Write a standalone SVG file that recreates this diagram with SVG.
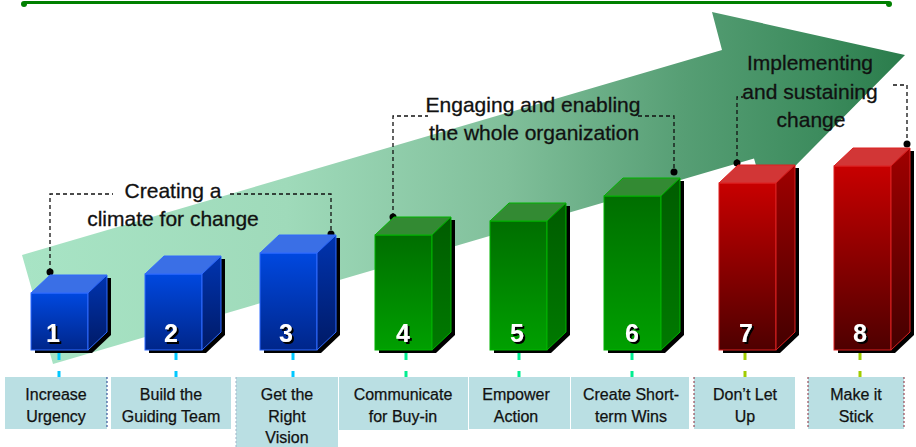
<svg xmlns="http://www.w3.org/2000/svg" width="916" height="447" viewBox="0 0 916 447">
<defs>
<linearGradient id="arrowGrad" gradientUnits="userSpaceOnUse" x1="22" y1="0" x2="905" y2="0">
<stop offset="0" stop-color="#a8e4c5"/>
<stop offset="0.3" stop-color="#9fdaba"/>
<stop offset="0.55" stop-color="#80bf9a"/>
<stop offset="0.75" stop-color="#569e74"/>
<stop offset="0.9" stop-color="#3d8c5e"/>
<stop offset="1" stop-color="#2a7c4b"/>
</linearGradient>
<linearGradient id="blueFront" x1="0" y1="0" x2="0" y2="1"><stop offset="0" stop-color="#0048e0"/><stop offset="1" stop-color="#00268a"/></linearGradient>
<linearGradient id="blueSide" x1="0" y1="0" x2="0" y2="1"><stop offset="0" stop-color="#0034b0"/><stop offset="1" stop-color="#001a66"/></linearGradient>
<linearGradient id="greenFront" x1="0" y1="0" x2="0" y2="1"><stop offset="0" stop-color="#006e00"/><stop offset="1" stop-color="#00a000"/></linearGradient>
<linearGradient id="greenSide" x1="0" y1="0" x2="0" y2="1"><stop offset="0" stop-color="#005c00"/><stop offset="1" stop-color="#007a00"/></linearGradient>
<linearGradient id="redFront" x1="0" y1="0" x2="0" y2="1"><stop offset="0" stop-color="#c80000"/><stop offset="1" stop-color="#4e0000"/></linearGradient>
<linearGradient id="redSide" x1="0" y1="0" x2="0" y2="1"><stop offset="0" stop-color="#a00000"/><stop offset="1" stop-color="#440000"/></linearGradient>
<filter id="numShadow" x="-50%" y="-50%" width="200%" height="200%">
<feDropShadow dx="2" dy="2" stdDeviation="0" flood-color="#000" flood-opacity="1"/>
</filter>
<style>
.shadow{fill:#000}
.bF{fill:url(#blueFront);stroke:#2f6bff;stroke-width:1}
.bS{fill:url(#blueSide);stroke:#2f6bff;stroke-width:1}
.bT{fill:#3a6fe6;stroke:#2f6bff;stroke-width:1}
.gF{fill:url(#greenFront);stroke:#00b400;stroke-width:1}
.gS{fill:url(#greenSide);stroke:#00b400;stroke-width:1}
.gT{fill:#338a33;stroke:#00b400;stroke-width:1}
.rF{fill:url(#redFront);stroke:#dd2020;stroke-width:1}
.rS{fill:url(#redSide);stroke:#dd2020;stroke-width:1}
.rT{fill:#d23636;stroke:#dd2020;stroke-width:1}
.num{font-family:"Liberation Sans",Arial,sans-serif;font-weight:bold;font-size:25px;text-anchor:middle;fill:#fff;filter:url(#numShadow)}
.tick{stroke-width:3;stroke-dasharray:10 11}
.box{fill:#badfe3}
.lbl{font-family:"Liberation Sans",Arial,sans-serif;font-size:16px;fill:#111;stroke:#111;stroke-width:0.25;text-anchor:middle}
.head{font-family:"Liberation Sans",Arial,sans-serif;font-size:21px;fill:#111;stroke:#111;stroke-width:0.3;text-anchor:middle}
.br{fill:none;stroke:#111;stroke-width:1.3;stroke-dasharray:4 3}
.dot{fill:#000}
</style>
</defs>
<rect width="916" height="447" fill="#fff"/>
<g id="topline">
<line x1="24" y1="2.5" x2="889" y2="2.5" stroke="#008000" stroke-width="3"/>
<circle cx="24" cy="4" r="3" fill="#008000"/>
<circle cx="889" cy="4" r="3" fill="#008000"/>
</g>
<g id="arrow">
<polygon points="22,255 53,364 754,158.5 765,196.5 905,55 712,12 722,50" fill="url(#arrowGrad)"/>
</g>
<g id="connectors">
<line class="tick" x1="59" y1="350" x2="59" y2="377" stroke="#00c8ff"/>
<line class="tick" x1="176" y1="350" x2="176" y2="377" stroke="#00c8ff"/>
<line class="tick" x1="293" y1="350" x2="293" y2="377" stroke="#00c8ff"/>
<line class="tick" x1="406" y1="350" x2="406" y2="377" stroke="#00ee90"/>
<line class="tick" x1="519" y1="350" x2="519" y2="377" stroke="#00ee90"/>
<line class="tick" x1="632" y1="350" x2="632" y2="377" stroke="#00ee90"/>
<line class="tick" x1="745" y1="350" x2="745" y2="377" stroke="#a0cc00"/>
<line class="tick" x1="860" y1="350" x2="860" y2="377" stroke="#a0cc00"/>
<path class="br" d="M50,272 V194 H113 M230,194 H331 V234"/>
<path class="br" d="M393,217 V116 H428 M638,116 H674 V172"/>
<path class="br" d="M737,163 V97 H743 M893,85 H907 V144"/>
<circle class="dot" cx="50" cy="272" r="3.5"/>
<circle class="dot" cx="331" cy="234" r="3.5"/>
<circle class="dot" cx="393" cy="217" r="3.5"/>
<circle class="dot" cx="674" cy="172" r="3.5"/>
<circle class="dot" cx="737" cy="163" r="3.5"/>
<circle class="dot" cx="907" cy="144" r="3.5"/>
</g>
<g id="bar1">
<polygon class="shadow" points="35,296 54,278 111,278 111,335 92,353 35,353"/>
<rect class="bF" x="31" y="293" width="57" height="57"/>
<polygon class="bT" points="31,293 50,275 107,275 88,293"/>
<polygon class="bS" points="88,293 107,275 107,332 88,350"/>
<text class="num" x="53" y="342">1</text>
</g>
<g id="bar2">
<polygon class="shadow" points="149,277 168,259 225,259 225,335 206,353 149,353"/>
<rect class="bF" x="145" y="274" width="57" height="76"/>
<polygon class="bT" points="145,274 164,256 221,256 202,274"/>
<polygon class="bS" points="202,274 221,256 221,332 202,350"/>
<text class="num" x="171" y="342">2</text>
</g>
<g id="bar3">
<polygon class="shadow" points="264,256 283,238 340,238 340,335 321,353 264,353"/>
<rect class="bF" x="260" y="253" width="57" height="97"/>
<polygon class="bT" points="260,253 279,235 336,235 317,253"/>
<polygon class="bS" points="317,253 336,235 336,332 317,350"/>
<text class="num" x="286" y="342">3</text>
</g>
<g id="bar4">
<polygon class="shadow" points="379,238 398,220 455,220 455,335 436,353 379,353"/>
<rect class="gF" x="375" y="235" width="57" height="115"/>
<polygon class="gT" points="375,235 394,217 451,217 432,235"/>
<polygon class="gS" points="432,235 451,217 451,332 432,350"/>
<text class="num" x="403" y="342">4</text>
</g>
<g id="bar5">
<polygon class="shadow" points="494,224 513,206 570,206 570,335 551,353 494,353"/>
<rect class="gF" x="490" y="221" width="57" height="129"/>
<polygon class="gT" points="490,221 509,203 566,203 547,221"/>
<polygon class="gS" points="547,221 566,203 566,332 547,350"/>
<text class="num" x="517" y="342">5</text>
</g>
<g id="bar6">
<polygon class="shadow" points="608,199 627,181 684,181 684,335 665,353 608,353"/>
<rect class="gF" x="604" y="196" width="57" height="154"/>
<polygon class="gT" points="604,196 623,178 680,178 661,196"/>
<polygon class="gS" points="661,196 680,178 680,332 661,350"/>
<text class="num" x="632" y="342">6</text>
</g>
<g id="bar7">
<polygon class="shadow" points="723,186 742,168 799,168 799,335 780,353 723,353"/>
<rect class="rF" x="719" y="183" width="57" height="167"/>
<polygon class="rT" points="719,183 738,165 795,165 776,183"/>
<polygon class="rS" points="776,183 795,165 795,332 776,350"/>
<text class="num" x="746" y="342">7</text>
</g>
<g id="bar8">
<polygon class="shadow" points="838,169 857,151 914,151 914,335 895,353 838,353"/>
<rect class="rF" x="834" y="166" width="57" height="184"/>
<polygon class="rT" points="834,166 853,148 910,148 891,166"/>
<polygon class="rS" points="891,166 910,148 910,332 891,350"/>
<text class="num" x="860" y="342">8</text>
</g>
<g id="phase1">
<text class="head" x="173" y="198">Creating a</text>
<text class="head" x="173" y="226">climate for change</text>
</g>
<g id="phase2">
<text class="head" x="533" y="112">Engaging and enabling</text>
<text class="head" x="534" y="140">the whole organization</text>
</g>
<g id="phase3">
<text class="head" x="810" y="70">Implementing</text>
<text class="head" x="810" y="99">and sustaining</text>
<text class="head" x="811" y="127">change</text>
</g>
<g id="label1">
<rect class="box" x="5" y="377" width="102" height="52"/>
<line x1="107" y1="377" x2="107" y2="429" stroke="#1a3a8a" stroke-width="1" stroke-dasharray="2 2"/>
<text class="lbl" x="56" y="399.5">Increase</text><text class="lbl" x="56" y="421.5">Urgency</text>
</g>
<g id="label2">
<rect class="box" x="111" y="377" width="120" height="52"/>
<text class="lbl" x="171" y="399.5">Build the</text><text class="lbl" x="171" y="421.5">Guiding Team</text>
</g>
<g id="label3">
<rect class="box" x="236" y="377" width="102" height="70"/>
<line x1="236" y1="377" x2="236" y2="447" stroke="#9fb4c8" stroke-width="1" stroke-dasharray="2 2"/>
<text class="lbl" x="287" y="399.5">Get the</text><text class="lbl" x="287" y="421.5">Right</text><text class="lbl" x="287" y="443">Vision</text>
</g>
<g id="label4">
<rect class="box" x="339" y="377" width="129" height="53"/>
<text class="lbl" x="403" y="399.5">Communicate</text><text class="lbl" x="403" y="421.5">for Buy-in</text>
</g>
<g id="label5">
<rect class="box" x="469" y="377" width="101" height="52"/>
<text class="lbl" x="516" y="399.5">Empower</text><text class="lbl" x="516" y="421.5">Action</text>
</g>
<g id="label6">
<rect class="box" x="571" y="377" width="118" height="52"/>
<text class="lbl" x="631" y="399.5">Create Short-</text><text class="lbl" x="631" y="421.5">term Wins</text>
</g>
<g id="label7">
<rect class="box" x="694" y="377" width="101" height="52"/>
<line x1="694" y1="377" x2="694" y2="429" stroke="#8a2a3a" stroke-width="1" stroke-dasharray="2 2"/>
<text class="lbl" x="745" y="399.5">Don’t Let</text><text class="lbl" x="745" y="421.5">Up</text>
</g>
<g id="label8">
<rect class="box" x="808" y="377" width="96" height="52"/>
<line x1="808" y1="377" x2="808" y2="429" stroke="#8a2a3a" stroke-width="1" stroke-dasharray="2 2"/>
<line x1="904" y1="377" x2="904" y2="429" stroke="#8a2a3a" stroke-width="1" stroke-dasharray="2 2"/>
<text class="lbl" x="856" y="399.5">Make it</text><text class="lbl" x="856" y="421.5">Stick</text>
</g>
</svg>
